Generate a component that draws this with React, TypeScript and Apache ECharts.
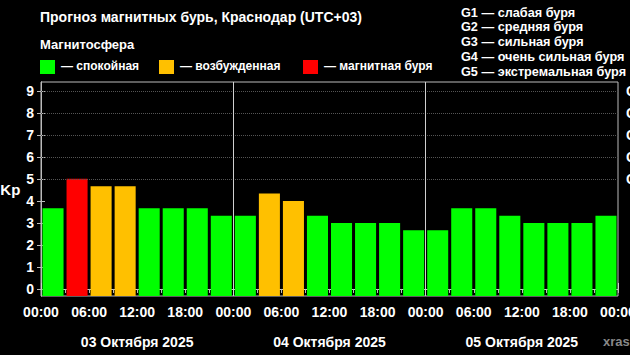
import React, { useEffect, useRef } from "react";
import * as echarts from "echarts";

// ---- data ----
const slotStartHours = [0, 3, 6, 9, 12, 15, 18, 21, 24, 27, 30, 33, 36, 39, 42, 45, 48, 51, 54, 57, 60, 63, 66, 69];
const kpValues = [
  3.67, 5.0, 4.67, 4.67, 3.67, 3.67, 3.67, 3.33,
  3.33, 4.33, 4.0, 3.33, 3.0, 3.0, 3.0, 2.67,
  2.67, 3.67, 3.67, 3.33, 3.0, 3.0, 3.0, 3.33,
];
const timeTickValues = [0, 6, 12, 18, 24, 30, 36, 42, 48, 54, 60, 66, 72];
const timeTickLabels = ["00:00", "06:00", "12:00", "18:00", "00:00", "06:00", "12:00", "18:00", "00:00", "06:00", "12:00", "18:00", "00:00"];
const dayCenters = [12, 36, 60];
const dayLabels = ["03 Октября 2025", "04 Октября 2025", "05 Октября 2025"];
const dayBounds = [0, 24, 48, 72];
const daySeparators = [24, 48];
const kpTicks = [0, 1, 2, 3, 4, 5, 6, 7, 8, 9];
const gLevels = [5, 6, 7, 8, 9];
const gLabels = ["G1", "G2", "G3", "G4", "G5"];
const gDescriptions = [
  "G1 — слабая буря",
  "G2 — средняя буря",
  "G3 — сильная буря",
  "G4 — очень сильная буря",
  "G5 — экстремальная буря",
];
const legendLabels = ["— спокойная", "— возбужденная", "— магнитная буря"];
const legendColors = ["#00ff00", "#ffc000", "#ff0000"];

const FONT = "Liberation Sans";

function colorFor(v: number) {
  if (v >= 5) return legendColors[2];
  if (v >= 4) return legendColors[1];
  return legendColors[0];
}

export default function App() {
  const ref = useRef<HTMLDivElement>(null);
  useEffect(() => {
    document.body.style.margin = "0";
    document.body.style.background = "#000";
    const chart = echarts.init(ref.current!, null, { renderer: "svg" });
    const textStyleBase = { fill: "#fff", fontFamily: FONT, fontWeight: "bold" as const };
    const legendX = [40, 159, 303];
    const graphics: any[] = [
      { type: "text", left: 40, top: 10, style: { ...textStyleBase, text: "Прогноз магнитных бурь, Краснодар (UTC+03)", fontSize: 14 } },
      { type: "text", left: 40, top: 38, style: { ...textStyleBase, text: "Магнитосфера", fontSize: 13 } },
      { type: "text", left: 603, top: 335, style: { fill: "#888", fontFamily: FONT, fontWeight: "bold", text: "xras", fontSize: 13 } },
    ];
    legendLabels.forEach((l, i) => {
      graphics.push({ type: "rect", shape: { x: legendX[i], y: 60, width: 15, height: 14 }, style: { fill: legendColors[i] } });
      graphics.push({ type: "text", left: legendX[i] + 21, top: 60, style: { ...textStyleBase, text: l, fontSize: 12 } });
    });
    gDescriptions.forEach((g, i) => {
      graphics.push({ type: "text", left: 461, top: 6 + i * 14.8, style: { ...textStyleBase, text: g, fontSize: 12.7 } });
    });

    const axisLineColor = "#bbbbbb";
    const labelStyle = { color: "#fff", fontFamily: FONT, fontWeight: "bold" as const, fontSize: 14 };

    chart.setOption({
      animation: false,
      backgroundColor: "#000",
      graphic: graphics,
      grid: {
        left: 41, right: 12, top: 82, bottom: 59, show: true, borderColor: axisLineColor, borderWidth: 1,
        containLabel: false, outerBoundsMode: "none",
      },
      xAxis: [
        {
          type: "value", min: 0, max: 72, interval: 3,
          axisLine: { show: true, lineStyle: { color: axisLineColor } },
          axisTick: { show: true, length: 4, lineStyle: { color: axisLineColor } },
          axisLabel: {
            ...labelStyle, margin: 9, customValues: timeTickValues,
            formatter: (v: number) => timeTickLabels[timeTickValues.indexOf(v)] ?? "",
            showMinLabel: true, showMaxLabel: true, hideOverlap: false,
          },
          splitLine: { show: false },
        },
        {
          type: "value", min: 0, max: 72, position: "bottom", offset: 37,
          axisLine: { show: true, lineStyle: { color: "#cccccc" } },
          axisTick: { show: true, inside: true, length: 6, customValues: dayBounds, lineStyle: { color: "#cccccc" } },
          axisLabel: {
            ...labelStyle, margin: 2, customValues: dayCenters,
            formatter: (v: number) => dayLabels[dayCenters.indexOf(v)] ?? "",
          },
          splitLine: { show: false },
        },
      ],
      yAxis: [
        {
          type: "value", min: -0.32, max: 9.4, position: "left",
          name: "Kp", nameLocation: "middle", nameRotate: 0, nameGap: 20,
          nameTextStyle: { ...labelStyle, fontSize: 15 },
          axisLine: { show: true, lineStyle: { color: axisLineColor } },
          axisTick: { show: true, length: 4, customValues: kpTicks, lineStyle: { color: axisLineColor } },
          axisLabel: { ...labelStyle, margin: 7, customValues: kpTicks },
          splitLine: { show: false },
        },
        {
          type: "value", min: -0.32, max: 9.4, position: "right",
          axisLine: { show: true, lineStyle: { color: axisLineColor } },
          axisTick: { show: true, length: 4, customValues: kpTicks, lineStyle: { color: axisLineColor } },
          axisLabel: {
            ...labelStyle, margin: 8, customValues: gLevels,
            formatter: (v: number) => gLabels[gLevels.indexOf(v)] ?? "",
          },
          splitLine: { show: false },
        },
      ],
      series: [
        {
          type: "line", data: [], xAxisIndex: 0, yAxisIndex: 0,
          markLine: {
            silent: true, symbol: "none", label: { show: false },
            data: [
              ...gLevels.map((g) => ({ yAxis: g, lineStyle: { color: "#555", type: "dotted", width: 1 } })),
              ...daySeparators.map((d) => ({ xAxis: d, lineStyle: { color: "#d0d0d0", type: "solid", width: 1 } })),
            ],
          },
        },
        {
          type: "custom", xAxisIndex: 0, yAxisIndex: 0,
          data: slotStartHours.map((h, i) => [h, kpValues[i]]),
          renderItem: (params: any, api: any) => {
            const start = api.value(0);
            const v = api.value(1);
            const slotW = api.size([3, 0])[0];
            const top = api.coord([start + 1.5, v]);
            const cs = params.coordSys;
            const bottom = cs.y + cs.height;
            const bw = slotW - 3;
            return {
              type: "rect",
              shape: { x: top[0] - bw / 2, y: top[1], width: bw, height: bottom - top[1] },
              style: { fill: colorFor(v) },
            };
          },
        },
      ],
    });
    return () => chart.dispose();
  }, []);
  return <div ref={ref} style={{ position: "fixed", left: 0, top: 0, width: 630, height: 355, background: "#000" }} />;
}
